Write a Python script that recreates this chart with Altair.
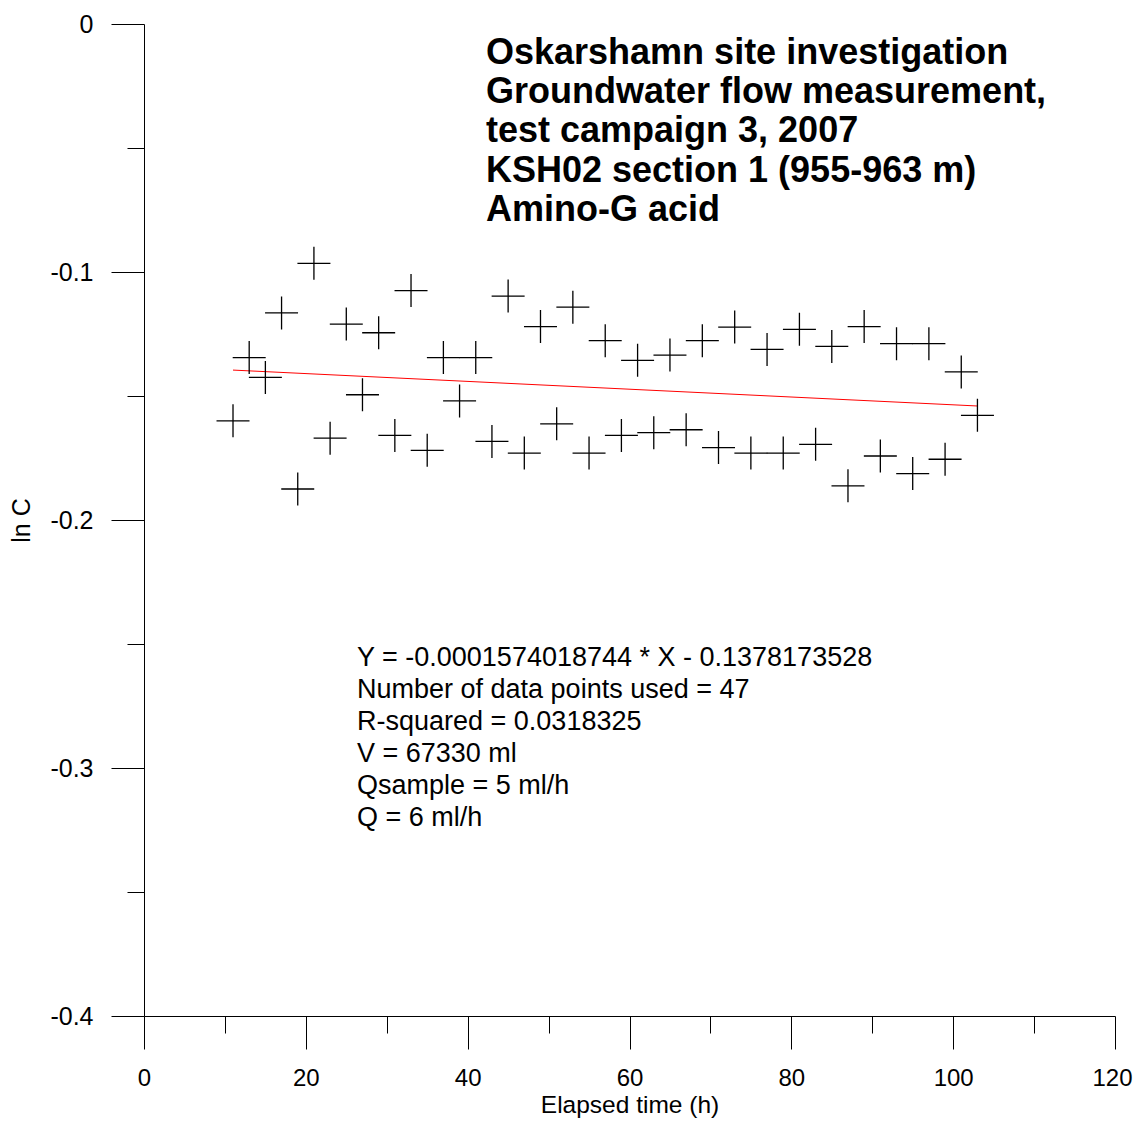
import altair as alt
import pandas as pd

# ---- data ----
elapsed_h = [11, 13, 15, 17, 19, 21, 23, 25, 27, 29, 31, 33, 35, 37, 39, 41, 43, 45, 47, 49,
             51, 53, 55, 57, 59, 61, 63, 65, 67, 69, 71, 73, 75, 77, 79, 81, 83, 85, 87, 89,
             91, 93, 95, 97, 99, 101, 103]
ln_c = [-0.1600, -0.1345, -0.1425, -0.1165, -0.1875, -0.0965, -0.1670, -0.1210, -0.1495, -0.1245,
        -0.1659, -0.1075, -0.1719, -0.1345, -0.1520, -0.1345, -0.1683, -0.1097, -0.1730, -0.1220,
        -0.1612, -0.1142, -0.1730, -0.1277, -0.1659, -0.1356, -0.1648, -0.1335, -0.1636, -0.1277,
        -0.1708, -0.1222, -0.1730, -0.1312, -0.1730, -0.1231, -0.1695, -0.1300, -0.1862, -0.1220,
        -0.1742, -0.1289, -0.1813, -0.1289, -0.1755, -0.1403, -0.1578]

# fitted line as stated on the chart
fit_slope = -0.0001574018744
fit_intercept = -0.1378173528
fit_x = [11, 103]

title_lines = [
    "Oskarshamn site investigation",
    "Groundwater flow measurement,",
    "test campaign 3, 2007",
    "KSH02 section 1 (955-963 m)",
    "Amino-G acid",
]
info_lines = [
    "Y = -0.0001574018744 * X - 0.1378173528",
    "Number of data points used = 47",
    "R-squared = 0.0318325",
    "V = 67330 ml",
    "Qsample = 5 ml/h",
    "Q = 6 ml/h",
]

x_ticks = list(range(0, 121, 10))
y_ticks = [round(-0.05 * i, 2) for i in range(0, 9)]

FONT = "Liberation Sans"

pts = pd.DataFrame({"t": elapsed_h, "lnc": ln_c})
fit = pd.DataFrame({"t": fit_x, "lnc": [fit_slope * v + fit_intercept for v in fit_x]})
one = pd.DataFrame({"k": [0]})

x_scale = alt.Scale(domain=[0, 120], nice=False, zero=False)
y_scale = alt.Scale(domain=[-0.4, 0], nice=False, zero=False)

x_axis = alt.Axis(
    values=x_ticks,
    tickSize={"condition": {"test": "datum.value % 20 === 0", "value": 33}, "value": 17},
    labelExpr="datum.value % 20 === 0 ? datum.label : ''",
    labelOffset={"condition": {"test": "datum.value === 120", "value": -3}, "value": 0},
    grid=False,
    labelFont=FONT, labelFontSize=24, labelColor="black", labelPadding=17,
    labelFlush=False,
    domainColor="black", tickColor="black", tickWidth=1, domainWidth=1,
    title="Elapsed time (h)", titleFont=FONT, titleFontSize=24.5,
    titleFontWeight="normal", titleColor="black",
    titleBaseline="alphabetic", titleY=96.5,
)
y_axis = alt.Axis(
    values=y_ticks,
    tickSize={"condition": {"test": "abs(round(datum.value * 20)) % 2 === 0", "value": 33},
              "value": 17},
    labelExpr=("abs(round(datum.value * 20)) % 2 === 0 ? "
               "(datum.value === 0 ? '0' : '-' + format(abs(datum.value), '.1f')) : ''"),
    grid=False,
    labelFont=FONT, labelFontSize=25, labelColor="black", labelPadding=18,
    labelFlush=False,
    domainColor="black", tickColor="black", tickWidth=1, domainWidth=1,
    title="ln C", titleFont=FONT, titleFontSize=25,
    titleFontWeight="normal", titleColor="black", titlePadding=15,
)

points = alt.Chart(pts).mark_point(
    shape="M-1,0L1,0M0,-1L0,1", size=1089, filled=False,
    stroke="black", strokeWidth=1.3, opacity=1,
).encode(
    x=alt.X("t:Q", scale=x_scale, axis=x_axis),
    y=alt.Y("lnc:Q", scale=y_scale, axis=y_axis),
)

line = alt.Chart(fit).mark_line(color="#ff0000", strokeWidth=1).encode(
    x=alt.X("t:Q", scale=x_scale),
    y=alt.Y("lnc:Q", scale=y_scale),
)

title_text = alt.Chart(one).mark_text(
    text=title_lines, align="left", baseline="alphabetic",
    font=FONT, fontSize=36, fontWeight="bold", color="black", lineHeight=39.2,
).encode(x=alt.value(342), y=alt.value(40))

info_text = alt.Chart(one).mark_text(
    text=info_lines, align="left", baseline="alphabetic",
    font=FONT, fontSize=27, color="black", lineHeight=32,
).encode(x=alt.value(213), y=alt.value(642))

chart = alt.layer(line, points, title_text, info_text).properties(
    width=971, height=992,
    autosize=alt.AutoSizeParams(type="none"),
    padding={"left": 136, "top": 16, "right": 18, "bottom": 102},
    background="white",
).configure_view(strokeWidth=0)

chart.save("out.html", embed_options={"renderer": "svg", "actions": False})
